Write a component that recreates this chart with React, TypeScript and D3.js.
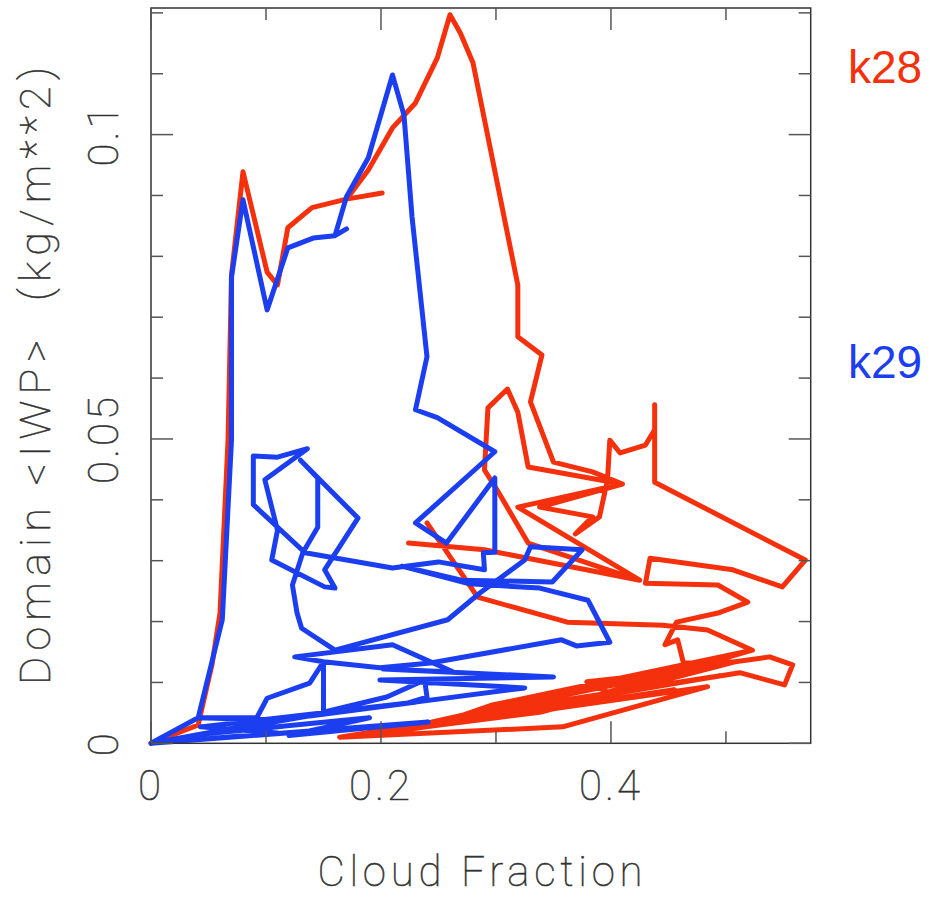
import React from "react";
import { scaleLinear, line, range } from "d3";

// k28 trajectory: [cloud fraction, domain <IWP> (kg/m**2)]
const k28: [number, number][] = [
  [0, 0], [0.041, 0.003], [0.053, 0.0129], [0.06, 0.0214], [0.067, 0.0498],
  [0.07, 0.0769], [0.08, 0.0939], [0.101, 0.0774], [0.11, 0.0753], [0.119, 0.0847],
  [0.14, 0.088], [0.17, 0.0894], [0.201, 0.0904], [0.17, 0.0894], [0.189, 0.0942],
  [0.21, 0.1011], [0.23, 0.1052], [0.249, 0.1126], [0.26, 0.1197], [0.269, 0.1167],
  [0.28, 0.1118], [0.319, 0.0753], [0.319, 0.0668], [0.34, 0.0638], [0.33, 0.0561],
  [0.35, 0.0462], [0.384, 0.0446], [0.41, 0.0426], [0.328, 0.0454], [0.319, 0.0544],
  [0.31, 0.0582], [0.293, 0.0551], [0.29, 0.0449], [0.301, 0.0416], [0.328, 0.0329],
  [0.424, 0.0268], [0.29, 0.0318], [0.224, 0.0329], [0.29, 0.0318], [0.425, 0.0268],
  [0.319, 0.0388], [0.41, 0.0426], [0.338, 0.0388], [0.384, 0.0372], [0.369, 0.0344],
  [0.39, 0.0372], [0.397, 0.0433], [0.399, 0.0498], [0.408, 0.0477], [0.43, 0.049],
  [0.438, 0.0515], [0.438, 0.0556], [0.438, 0.0429], [0.569, 0.0301], [0.549, 0.0257],
  [0.506, 0.0285], [0.434, 0.0304], [0.43, 0.0263], [0.493, 0.026], [0.519, 0.0232],
  [0.493, 0.0214], [0.457, 0.0199], [0.447, 0.0162], [0.458, 0.017], [0.463, 0.0132],
  [0.508, 0.0134], [0.538, 0.0142], [0.558, 0.0129], [0.551, 0.0096], [0.512, 0.0116],
  [0.164, 0.001], [0.358, 0.0027], [0.484, 0.0093], [0.243, 0.0028], [0.297, 0.0063],
  [0.523, 0.0153], [0.397, 0.0084], [0.379, 0.0101], [0.457, 0.0117], [0.277, 0.0047],
  [0.495, 0.0111], [0.217, 0.0022], [0.338, 0.0051], [0.508, 0.0134], [0.321, 0.0071],
  [0.269, 0.0035], [0.455, 0.0088], [0.2, 0.0016], [0.523, 0.0153],
  [0.484, 0.0186], [0.445, 0.0194], [0.362, 0.0199], [0.284, 0.024], [0.24, 0.0362],
];

// k29 trajectory
const k29: [number, number][] = [
  [0, 0], [0.041, 0.0042], [0.062, 0.0203], [0.07, 0.0498], [0.07, 0.0766],
  [0.08, 0.0893], [0.101, 0.0712], [0.119, 0.0814], [0.141, 0.083], [0.16, 0.0834],
  [0.17, 0.0845], [0.16, 0.0834], [0.17, 0.0898], [0.189, 0.0962], [0.21, 0.1098],
  [0.22, 0.1032], [0.227, 0.0865], [0.24, 0.0635], [0.23, 0.0548], [0.249, 0.0535],
  [0.299, 0.0479], [0.23, 0.0362], [0.257, 0.0329], [0.299, 0.0436], [0.299, 0.0314],
  [0.289, 0.0313], [0.29, 0.0285], [0.25, 0.0298], [0.21, 0.0288], [0.134, 0.0313],
  [0.089, 0.0392], [0.089, 0.0472], [0.11, 0.047], [0.136, 0.0484], [0.099, 0.0433],
  [0.11, 0.035], [0.105, 0.0301], [0.151, 0.0257], [0.16, 0.0255], [0.151, 0.0285],
  [0.18, 0.037], [0.13, 0.0465], [0.145, 0.0436], [0.145, 0.0355], [0.132, 0.0313],
  [0.123, 0.026], [0.127, 0.0214], [0.131, 0.0189], [0.16, 0.0153], [0.258, 0.0203],
  [0.286, 0.0247], [0.325, 0.0301], [0.33, 0.0323], [0.375, 0.0318], [0.349, 0.0265],
  [0.27, 0.0268], [0.218, 0.0291], [0.277, 0.0262], [0.338, 0.0255], [0.38, 0.0235],
  [0.399, 0.0166], [0.37, 0.016], [0.357, 0.017], [0.243, 0.0132], [0.199, 0.0124],
  [0.15, 0.0134], [0.125, 0.0142], [0.21, 0.0162], [0.263, 0.0117], [0.202, 0.0122],
  [0.35, 0.0109], [0.199, 0.0104], [0.325, 0.0091], [0.223, 0.0066], [0.24, 0.0076],
  [0.238, 0.0104], [0.205, 0.0076], [0.15, 0.0051], [0.15, 0.0134], [0.138, 0.0099],
  [0.101, 0.0074], [0.092, 0.0042], [0.041, 0.0042], [0.11, 0.0038], [0, 0],
  [0.11, 0.0017], [0.043, 0.0027], [0.231, 0.0068], [0.138, 0.0045], [0, 0],
  [0.241, 0.0035], [0.12, 0.0013], [0.19, 0.0042], [0.05, 0.0016], [0.115, 0.0028],
];

const xTicks = range(0, 0.55, 0.1);
const xLabels = ["0", "0.2", "0.4"];
const yTicks = range(0, 0.125, 0.01);
const yLabels = ["0", "0.05", "0.1"];

const series = [
  { name: "k28", data: k28, color: "#f5300c" },
  { name: "k29", data: k29, color: "#1b3ff0" },
];

const W = 930;
const H = 899;
const left = 151;
const right = 810.7;
const top = 8;
const bottom = 743.3;

const App = () => {
  const x = scaleLinear().domain([0, 0.5737]).range([left, right]);
  const y = scaleLinear().domain([0, 0.1208]).range([bottom, top]);
  const path = line<[number, number]>()
    .x((d) => x(d[0]))
    .y((d) => y(d[1]));

  const tickColor = "#555";
  const textProps = {
    fontFamily: "Roboto",
    fontWeight: 100,
    fill: "#333",
    stroke: "#333",
    strokeWidth: 0.5,
  };
  const isMajorX = (v: number) => Math.abs(v * 10 - 2 * Math.round(v * 5)) < 1e-6;
  const isMajorY = (v: number) => Math.abs(v * 100 - 5 * Math.round(v * 20)) < 1e-6;

  return (
    <svg
      width={W}
      height={H}
      style={{ position: "absolute", left: 0, top: 0, background: "#fff" }}
    >
      {series.map((s) => (
        <path
          key={s.name}
          d={path(s.data) || ""}
          fill="none"
          stroke={s.color}
          strokeWidth={5}
          strokeLinejoin="round"
          strokeLinecap="round"
        />
      ))}

      {/* frame */}
      <rect
        x={left}
        y={top}
        width={right - left}
        height={bottom - top}
        fill="none"
        stroke="#333"
        strokeWidth={1.5}
      />

      {xTicks.map((v) => {
        const len = isMajorX(v) ? 22 : 12;
        return (
          <g key={"x" + v} stroke={tickColor} strokeWidth={1.5}>
            <line x1={x(v)} x2={x(v)} y1={bottom} y2={bottom - len} />
            <line x1={x(v)} x2={x(v)} y1={top} y2={top + len} />
          </g>
        );
      })}
      {yTicks.map((v) => {
        const len = isMajorY(v) ? 22 : 12;
        return (
          <g key={"y" + v} stroke={tickColor} strokeWidth={1.5}>
            <line x1={left} x2={left + len} y1={y(v)} y2={y(v)} />
            <line x1={right} x2={right - len} y1={y(v)} y2={y(v)} />
          </g>
        );
      })}

      {xLabels.map((t) => (
        <text
          key={"xl" + t}
          x={x(+t)}
          y={800}
          textAnchor="middle"
          fontSize={42}
          letterSpacing={3}
          {...textProps}
        >
          {t}
        </text>
      ))}
      {yLabels.map((t) => (
        <text
          key={"yl" + t}
          transform={`translate(118,${y(+t)}) rotate(-90)`}
          textAnchor="middle"
          fontSize={42}
          letterSpacing={3}
          {...textProps}
        >
          {t}
        </text>
      ))}

      <text
        x={480}
        y={886}
        textAnchor="middle"
        fontSize={42}
        textLength={325}
        lengthAdjust="spacing"
        {...textProps}
      >
        Cloud Fraction
      </text>
      <text
        transform={`translate(50,376) rotate(-90)`}
        textAnchor="middle"
        fontSize={43}
        textLength={618}
        lengthAdjust="spacing"
        style={{ whiteSpace: "pre" }}
        {...textProps}
      >
        {"Domain <IWP>  (kg/m**2)"}
      </text>

      <text x={848} y={83} fontFamily="'Liberation Sans', Arial, sans-serif" fontSize={46} fill={series[0].color}>
        k28
      </text>
      <text x={848} y={378} fontFamily="'Liberation Sans', Arial, sans-serif" fontSize={46} fill={series[1].color}>
        k29
      </text>
    </svg>
  );
};

export default App;
